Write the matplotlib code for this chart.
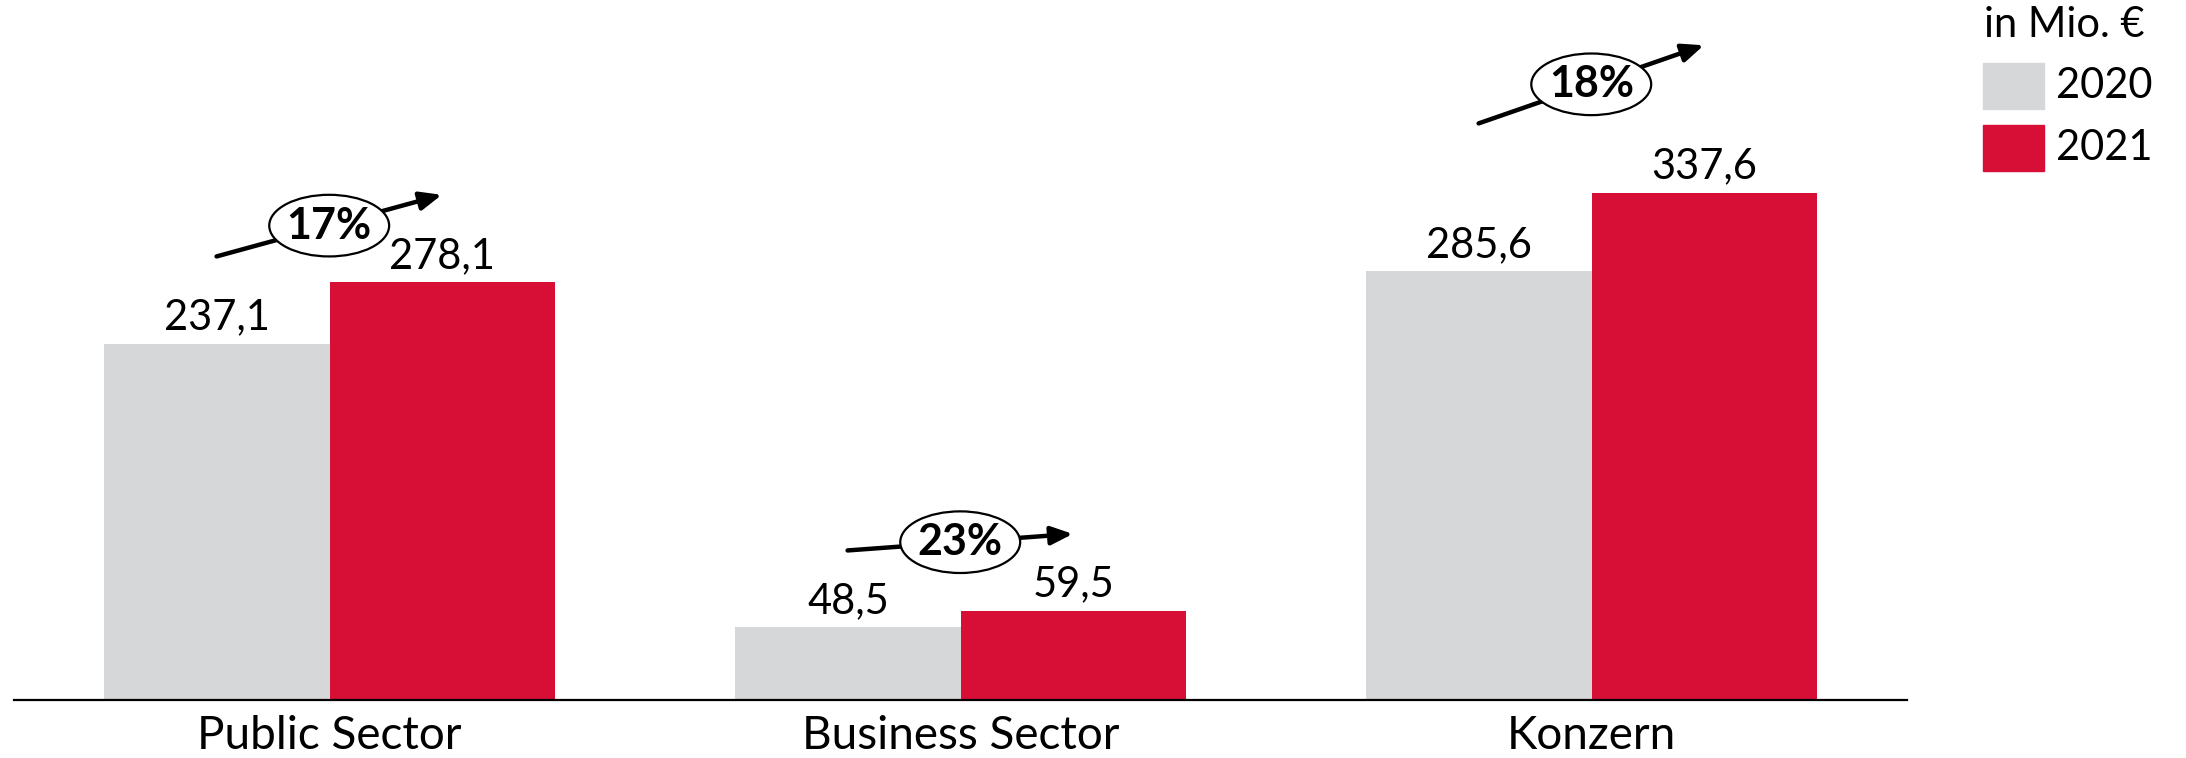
import numpy as np
import matplotlib.pyplot as plt
from matplotlib.patches import Ellipse, Rectangle

# data (in Mio. €)
categories = ["Public Sector", "Business Sector", "Konzern"]
years = ["2020", "2021"]
values_2020 = [237.1, 48.5, 285.6]
values_2021 = [278.1, 59.5, 337.6]
growth = ["17%", "23%", "18%"]
unit_label = "in Mio. €"

colors = ["#D6D7D9", "#D70F37"]

plt.rcParams["font.family"] = ["Lato", "DejaVu Sans"]

fig = plt.figure(figsize=(21.86, 7.58), dpi=100)
ax = fig.add_axes([0.0064, 0.0765, 0.866, 0.9235])

x = np.arange(len(categories))
w = 0.357
b1 = ax.bar(x - w / 2, values_2020, w, color=colors[0])
b2 = ax.bar(x + w / 2, values_2021, w, color=colors[1])

ax.set_xlim(-0.5, 2.5)
ax.set_ylim(0, 465.7)

#Value labels
for bars in (b1, b2):
    for r in bars:
        v = r.get_height()
        ax.annotate(f"{v:.1f}".replace(".", ","), (r.get_x() + r.get_width() / 2, v),
                    xytext=(0, 18.7), textcoords="offset points",
                    ha="center", va="center", fontsize=30)

#Growth arrows with ellipse
arrow_offset = [58, 51, 98]
for i in range(len(categories)):
    x0, y0 = x[i] - 0.179, values_2020[i] + arrow_offset[i]
    x1, y1 = x[i] + 0.178, values_2021[i] + arrow_offset[i]
    ax.annotate("", xy=(x1, y1), xytext=(x0, y0),
                arrowprops=dict(arrowstyle="-|>,head_length=1.3,head_width=0.55",
                                color="black", lw=3.2, shrinkA=0, shrinkB=0))
    xm, ym = (x0 + x1) / 2, (y0 + y1) / 2
    ax.add_patch(Ellipse((xm, ym), 0.19, 41, facecolor="white", edgecolor="black",
                         lw=1.6, zorder=5))
    ax.text(xm, ym, growth[i], ha="center", va="center", fontsize=31,
            fontweight="bold", zorder=6)

#Axis styling
for s in ["top", "right", "left"]:
    ax.spines[s].set_visible(False)
ax.spines["bottom"].set_linewidth(1.6)
ax.set_yticks([])
ax.set_xticks(x)
ax.set_xticklabels(categories, fontsize=33)
ax.tick_params(axis="x", length=0, pad=11)

#Legend
fig.text(1984 / 2186, 1 - 25 / 758, unit_label, fontsize=30, ha="left", va="center")
for j, yr in enumerate(years):
    yc = [86, 148][j]
    fig.add_artist(Rectangle((1983 / 2186, 1 - (yc + 23) / 758), 61 / 2186, 46 / 758,
                             transform=fig.transFigure, color=colors[j]))
    fig.text(2056 / 2186, 1 - yc / 758, yr, fontsize=30, ha="left", va="center")

fig.savefig("out.png", dpi=100)
